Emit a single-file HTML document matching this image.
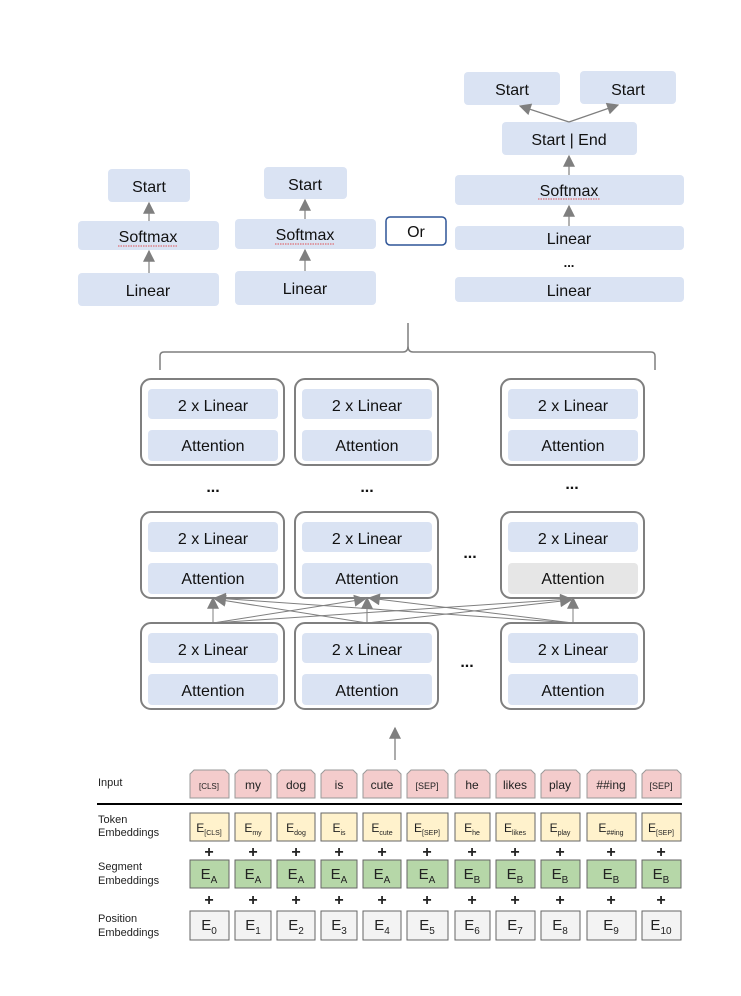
<!DOCTYPE html>
<html><head><meta charset="utf-8"><style>
html,body{margin:0;padding:0;background:#fff;width:741px;height:996px;overflow:hidden}
svg{display:block}
.c{font-family:"Liberation Sans",sans-serif;font-size:16px;fill:#111;text-anchor:middle}
.a{font-family:"Liberation Sans",sans-serif;fill:#222}
.s{font-family:"Liberation Sans",sans-serif;fill:#222;text-anchor:middle}
</style></head><body>
<svg width="741" height="996" viewBox="0 0 741 996" xmlns="http://www.w3.org/2000/svg">
<defs>
<marker id="ar" viewBox="0 0 10 10" refX="9" refY="5" markerUnits="userSpaceOnUse" markerWidth="13" markerHeight="12" orient="auto"><path d="M0,0 L10,5 L0,10 z" fill="#7f7f7f"/></marker>
</defs>
<g fill="#dae3f3">
<rect x="108" y="169" width="82" height="33" rx="4"/>
<rect x="78" y="221" width="141" height="29" rx="4"/>
<rect x="78" y="273" width="141" height="33" rx="4"/>
<rect x="264" y="167" width="83" height="32" rx="4"/>
<rect x="235" y="219" width="141" height="30" rx="4"/>
<rect x="235" y="271" width="141" height="34" rx="4"/>
<rect x="464" y="72" width="96" height="33" rx="4"/>
<rect x="580" y="71" width="96" height="33" rx="4"/>
<rect x="502" y="122" width="135" height="33" rx="4"/>
<rect x="455" y="175" width="229" height="30" rx="4"/>
<rect x="455" y="226" width="229" height="24" rx="4"/>
<rect x="455" y="277" width="229" height="25" rx="4"/>
</g>
<rect x="386" y="217" width="60" height="28" rx="4" fill="#fff" stroke="#2f5597" stroke-width="1.5"/>
<g class="c">
<text x="149" y="192">Start</text>
<text x="148" y="242">Softmax</text>
<text x="148" y="296">Linear</text>
<text x="305" y="190">Start</text>
<text x="305" y="240">Softmax</text>
<text x="305" y="294">Linear</text>
<text x="416" y="237">Or</text>
<text x="512" y="95">Start</text>
<text x="628" y="95">Start</text>
<text x="569" y="145">Start | End</text>
<text x="569" y="196">Softmax</text>
<text x="569" y="244">Linear</text>
<text x="569" y="267" font-weight="bold" font-size="13">...</text>
<text x="569" y="296">Linear</text>
</g>
<g stroke="#e02020" stroke-width="0.7" fill="none" stroke-dasharray="1.5,1">
<line x1="118" y1="246" x2="178" y2="246"/><line x1="275" y1="244" x2="335" y2="244"/><line x1="538" y1="199" x2="600" y2="199"/>
</g>
<g stroke="#7f7f7f" stroke-width="1.2" fill="none" marker-end="url(#ar)">
<line x1="149" y1="221" x2="149" y2="203"/>
<line x1="149" y1="273" x2="149" y2="251"/>
<line x1="305" y1="219" x2="305" y2="200"/>
<line x1="305" y1="271" x2="305" y2="250"/>
<line x1="569" y1="175" x2="569" y2="156"/>
<line x1="569" y1="226" x2="569" y2="206"/>
<polyline points="569,122 520,106"/>
<polyline points="569,122 618,105"/>
</g>
<path d="M160,370 L160,356 Q160,352 164,352 L403,352 Q408,352 408,346 L408,323 M408,346 Q408,352 413,352 L651,352 Q655,352 655,356 L655,370" fill="none" stroke="#7f7f7f" stroke-width="1.5"/>
<g fill="#fff" stroke="#7f7f7f" stroke-width="2">
<rect x="141" y="379" width="143" height="86" rx="10"/><rect x="295" y="379" width="143" height="86" rx="10"/><rect x="501" y="379" width="143" height="86" rx="10"/>
<rect x="141" y="512" width="143" height="86" rx="10"/><rect x="295" y="512" width="143" height="86" rx="10"/><rect x="501" y="512" width="143" height="86" rx="10"/>
<rect x="141" y="623" width="143" height="86" rx="10"/><rect x="295" y="623" width="143" height="86" rx="10"/><rect x="501" y="623" width="143" height="86" rx="10"/>
</g>
<g fill="#dae3f3">
<rect x="148" y="389" width="130" height="30" rx="4"/><rect x="148" y="430" width="130" height="31" rx="4"/>
<rect x="302" y="389" width="130" height="30" rx="4"/><rect x="302" y="430" width="130" height="31" rx="4"/>
<rect x="508" y="389" width="130" height="30" rx="4"/><rect x="508" y="430" width="130" height="31" rx="4"/>
<rect x="148" y="522" width="130" height="30" rx="4"/><rect x="148" y="563" width="130" height="31" rx="4"/>
<rect x="302" y="522" width="130" height="30" rx="4"/><rect x="302" y="563" width="130" height="31" rx="4"/>
<rect x="508" y="522" width="130" height="30" rx="4"/><rect x="508" y="563" width="130" height="31" rx="4" fill="#e6e6e6"/>
<rect x="148" y="633" width="130" height="30" rx="4"/><rect x="148" y="674" width="130" height="31" rx="4"/>
<rect x="302" y="633" width="130" height="30" rx="4"/><rect x="302" y="674" width="130" height="31" rx="4"/>
<rect x="508" y="633" width="130" height="30" rx="4"/><rect x="508" y="674" width="130" height="31" rx="4"/>
</g>
<g class="c">
<text x="213" y="411">2 x Linear</text><text x="213" y="451">Attention</text>
<text x="367" y="411">2 x Linear</text><text x="367" y="451">Attention</text>
<text x="573" y="411">2 x Linear</text><text x="573" y="451">Attention</text>
<text x="213" y="544">2 x Linear</text><text x="213" y="584">Attention</text>
<text x="367" y="544">2 x Linear</text><text x="367" y="584">Attention</text>
<text x="573" y="544">2 x Linear</text><text x="573" y="584">Attention</text>
<text x="213" y="655">2 x Linear</text><text x="213" y="696">Attention</text>
<text x="367" y="655">2 x Linear</text><text x="367" y="696">Attention</text>
<text x="573" y="655">2 x Linear</text><text x="573" y="696">Attention</text>
</g>
<g class="c" font-weight="bold" font-size="13">
<text x="213" y="492">...</text><text x="367" y="492">...</text><text x="572" y="489">...</text>
<text x="470" y="558">...</text><text x="467" y="667">...</text>
</g>
<g stroke="#7f7f7f" stroke-width="1" fill="none" marker-end="url(#ar)">
<line x1="213" y1="623" x2="213" y2="598"/>
<line x1="213" y1="623" x2="365" y2="599"/>
<line x1="213" y1="623" x2="571" y2="599"/>
<line x1="367" y1="623" x2="367" y2="598"/>
<line x1="367" y1="623" x2="215" y2="599"/>
<line x1="367" y1="623" x2="571" y2="600"/>
<line x1="573" y1="623" x2="573" y2="598"/>
<line x1="573" y1="623" x2="215" y2="598"/>
<line x1="573" y1="623" x2="369" y2="598"/>
<line x1="395" y1="760" x2="395" y2="728" stroke-width="1.3"/>
</g>
<g class="a" font-size="11">
<text x="98" y="786">Input</text>
<text x="98" y="823">Token</text><text x="98" y="836">Embeddings</text>
<text x="98" y="870">Segment</text><text x="98" y="884">Embeddings</text>
<text x="98" y="922">Position</text><text x="98" y="936">Embeddings</text>
</g>
<line x1="97" y1="804" x2="682" y2="804" stroke="#000" stroke-width="2"/>
<g font-family="Liberation Sans,sans-serif">
<g stroke="#999" stroke-width="1">
<path d="M190,798 V774 L194,770 H225 L229,774 V798 Z" fill="#f4cccc"/>
<path d="M235,798 V774 L239,770 H267 L271,774 V798 Z" fill="#f4cccc"/>
<path d="M277,798 V774 L281,770 H311 L315,774 V798 Z" fill="#f4cccc"/>
<path d="M321,798 V774 L325,770 H353 L357,774 V798 Z" fill="#f4cccc"/>
<path d="M363,798 V774 L367,770 H397 L401,774 V798 Z" fill="#f4cccc"/>
<path d="M407,798 V774 L411,770 H444 L448,774 V798 Z" fill="#f4cccc"/>
<path d="M455,798 V774 L459,770 H486 L490,774 V798 Z" fill="#f4cccc"/>
<path d="M496,798 V774 L500,770 H531 L535,774 V798 Z" fill="#f4cccc"/>
<path d="M541,798 V774 L545,770 H576 L580,774 V798 Z" fill="#f4cccc"/>
<path d="M587,798 V774 L591,770 H632 L636,774 V798 Z" fill="#f4cccc"/>
<path d="M642,798 V774 L646,770 H677 L681,774 V798 Z" fill="#f4cccc"/>
</g>
<g stroke="#666" stroke-width="1" fill="#fff2cc">
<rect x="190" y="813" width="39" height="28"/><rect x="235" y="813" width="36" height="28"/><rect x="277" y="813" width="38" height="28"/><rect x="321" y="813" width="36" height="28"/><rect x="363" y="813" width="38" height="28"/><rect x="407" y="813" width="41" height="28"/><rect x="455" y="813" width="35" height="28"/><rect x="496" y="813" width="39" height="28"/><rect x="541" y="813" width="39" height="28"/><rect x="587" y="813" width="49" height="28"/><rect x="642" y="813" width="39" height="28"/>
</g>
<g stroke="#666" stroke-width="1" fill="#b6d7a8">
<rect x="190" y="860" width="39" height="28"/><rect x="235" y="860" width="36" height="28"/><rect x="277" y="860" width="38" height="28"/><rect x="321" y="860" width="36" height="28"/><rect x="363" y="860" width="38" height="28"/><rect x="407" y="860" width="41" height="28"/><rect x="455" y="860" width="35" height="28"/><rect x="496" y="860" width="39" height="28"/><rect x="541" y="860" width="39" height="28"/><rect x="587" y="860" width="49" height="28"/><rect x="642" y="860" width="39" height="28"/>
</g>
<g stroke="#666" stroke-width="1" fill="#f3f3f3">
<rect x="190" y="911" width="39" height="29"/><rect x="235" y="911" width="36" height="29"/><rect x="277" y="911" width="38" height="29"/><rect x="321" y="911" width="36" height="29"/><rect x="363" y="911" width="38" height="29"/><rect x="407" y="911" width="41" height="29"/><rect x="455" y="911" width="35" height="29"/><rect x="496" y="911" width="39" height="29"/><rect x="541" y="911" width="39" height="29"/><rect x="587" y="911" width="49" height="29"/><rect x="642" y="911" width="39" height="29"/>
</g>
<g class="s" font-size="12">
<text x="209" y="789" font-size="8">[CLS]</text><text x="253" y="789">my</text><text x="296" y="789">dog</text><text x="339" y="789">is</text><text x="382" y="789">cute</text><text x="427" y="789" font-size="9">[SEP]</text><text x="472" y="789">he</text><text x="515" y="789">likes</text><text x="560" y="789">play</text><text x="611" y="789">##ing</text><text x="661" y="789" font-size="9">[SEP]</text>
</g>
<g class="s" font-size="12">
<text x="209" y="832">E<tspan font-size="7" dy="3">[CLS]</tspan></text>
<text x="253" y="832">E<tspan font-size="7" dy="3">my</tspan></text>
<text x="296" y="832">E<tspan font-size="7" dy="3">dog</tspan></text>
<text x="339" y="832">E<tspan font-size="7" dy="3">is</tspan></text>
<text x="382" y="832">E<tspan font-size="7" dy="3">cute</tspan></text>
<text x="427" y="832">E<tspan font-size="7" dy="3">[SEP]</tspan></text>
<text x="472" y="832">E<tspan font-size="7" dy="3">he</tspan></text>
<text x="515" y="832">E<tspan font-size="7" dy="3">likes</tspan></text>
<text x="560" y="832">E<tspan font-size="7" dy="3">play</tspan></text>
<text x="611" y="832">E<tspan font-size="7" dy="3">##ing</tspan></text>
<text x="661" y="832">E<tspan font-size="7" dy="3">[SEP]</tspan></text>
</g>
<g class="s" font-size="15">
<text x="209" y="879">E<tspan font-size="10" dy="4">A</tspan></text><text x="253" y="879">E<tspan font-size="10" dy="4">A</tspan></text><text x="296" y="879">E<tspan font-size="10" dy="4">A</tspan></text><text x="339" y="879">E<tspan font-size="10" dy="4">A</tspan></text><text x="382" y="879">E<tspan font-size="10" dy="4">A</tspan></text><text x="427" y="879">E<tspan font-size="10" dy="4">A</tspan></text><text x="472" y="879">E<tspan font-size="10" dy="4">B</tspan></text><text x="515" y="879">E<tspan font-size="10" dy="4">B</tspan></text><text x="560" y="879">E<tspan font-size="10" dy="4">B</tspan></text><text x="611" y="879">E<tspan font-size="10" dy="4">B</tspan></text><text x="661" y="879">E<tspan font-size="10" dy="4">B</tspan></text>
</g>
<g class="s" font-size="15">
<text x="209" y="930">E<tspan font-size="10" dy="4">0</tspan></text><text x="253" y="930">E<tspan font-size="10" dy="4">1</tspan></text><text x="296" y="930">E<tspan font-size="10" dy="4">2</tspan></text><text x="339" y="930">E<tspan font-size="10" dy="4">3</tspan></text><text x="382" y="930">E<tspan font-size="10" dy="4">4</tspan></text><text x="427" y="930">E<tspan font-size="10" dy="4">5</tspan></text><text x="472" y="930">E<tspan font-size="10" dy="4">6</tspan></text><text x="515" y="930">E<tspan font-size="10" dy="4">7</tspan></text><text x="560" y="930">E<tspan font-size="10" dy="4">8</tspan></text><text x="611" y="930">E<tspan font-size="10" dy="4">9</tspan></text><text x="661" y="930">E<tspan font-size="10" dy="4">10</tspan></text>
</g>
<g class="s" font-size="16" font-weight="bold">
<text x="209" y="857">+</text><text x="253" y="857">+</text><text x="296" y="857">+</text><text x="339" y="857">+</text><text x="382" y="857">+</text><text x="427" y="857">+</text><text x="472" y="857">+</text><text x="515" y="857">+</text><text x="560" y="857">+</text><text x="611" y="857">+</text><text x="661" y="857">+</text>
<text x="209" y="905">+</text><text x="253" y="905">+</text><text x="296" y="905">+</text><text x="339" y="905">+</text><text x="382" y="905">+</text><text x="427" y="905">+</text><text x="472" y="905">+</text><text x="515" y="905">+</text><text x="560" y="905">+</text><text x="611" y="905">+</text><text x="661" y="905">+</text>
</g>
</g>
</svg>
</body></html>
